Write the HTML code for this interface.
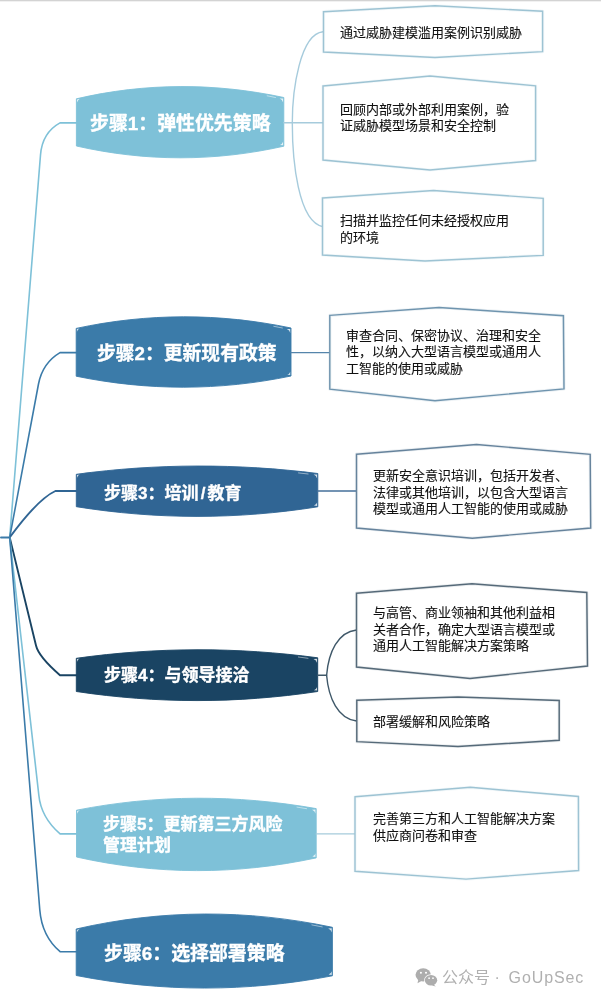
<!DOCTYPE html>
<html lang="zh-CN">
<head>
<meta charset="utf-8">
<title>LLM 安全步骤</title>
<style>
html,body{margin:0;padding:0;background:#fff;}
body{width:601px;height:1001px;position:relative;overflow:hidden;font-family:"Liberation Sans","Noto Sans CJK SC",sans-serif;}
svg{position:absolute;left:0;top:0;}
.t{position:absolute;color:#fff;font-weight:bold;white-space:nowrap;-webkit-text-stroke:0.35px #fff;will-change:transform;}
.b{position:absolute;color:#111;font-size:13px;white-space:nowrap;will-change:transform;-webkit-text-stroke:0.12px #111;}
.wm{position:absolute;color:#b0b0b0;font-size:16px;line-height:24px;white-space:nowrap;will-change:transform;}
.wm .g{letter-spacing:0.9px;margin-left:4.3px;}
</style>
</head>
<body>
<svg width="601" height="1001" viewBox="0 0 601 1001">
<rect x="0" y="0" width="601" height="1" fill="#d3d3d3"/><rect x="0" y="1" width="601" height="1" fill="#f1f1f1"/>
<path d="M1,537.4 L9.7,537.4" fill="none" stroke="#3b7ba9" stroke-width="2" stroke-linecap="round" stroke-linejoin="round"/>
<path d="M9.7,537.4 L40.5,155 Q42.2,132.7 60,122.9 L77,122.9" fill="none" stroke="#7ec1d8" stroke-width="1.6" stroke-linecap="round" stroke-linejoin="round"/>
<path d="M9.7,537.4 L38.5,384 Q42.5,363 60,352.6 L77,352.6" fill="none" stroke="#3b7ba9" stroke-width="1.6" stroke-linecap="round" stroke-linejoin="round"/>
<path d="M9.7,537.4 Q38,499 55.4,491 L77,491" fill="none" stroke="#306594" stroke-width="1.9" stroke-linecap="round" stroke-linejoin="round"/>
<path d="M9.7,537.4 L36,645.5 Q38.6,656.6 60,675.2 L77,675.2" fill="none" stroke="#1a4463" stroke-width="1.9" stroke-linecap="round" stroke-linejoin="round"/>
<path d="M9.7,537.4 L38.8,795 Q41,817.4 60.1,833.9 L77,833.9" fill="none" stroke="#7ec1d8" stroke-width="1.6" stroke-linecap="round" stroke-linejoin="round"/>
<path d="M9.7,537.4 L39.8,910 Q41.9,936.2 60.1,951.7 L77,951.7" fill="none" stroke="#3b7ba9" stroke-width="1.6" stroke-linecap="round" stroke-linejoin="round"/>
<path d="M76.4,98.8 C145.5,82.7 214.7,82.7 283.8,97.5 L283.8,146.2 C214.7,161.7 145.5,161.7 76.4,146 Z" fill="#7ec1d8"/>
<path d="M279.6,98.6 L283.2,98.4 L283.2,102.7 Q282.40000000000003,99.7 279.6,98.6 Z M280.0,144.89999999999998 L283.2,145.29999999999998 L283.2,141.6 Q282.40000000000003,144.0 280.0,144.89999999999998 Z M77.0,102.39999999999999 L77.0,99.5 L79.80000000000001,98.7 Q77.60000000000001,100.2 77.0,102.39999999999999 Z" fill="#fff" opacity="0.8"/>
<path d="M267.2,95.8 L275.5,97.5" stroke="#fff" stroke-width="0.9" opacity="0.55" fill="none" stroke-linecap="round"/>
<path d="M76.4,98.8 C145.5,82.7 214.7,82.7 283.8,97.5 L283.8,146.2 C214.7,161.7 145.5,161.7 76.4,146 Z" fill="none" stroke="#7ec1d8" stroke-width="0.9" stroke-linejoin="miter"/>
<path d="M76.2,328.4 C147.8,313.0 219.4,313.0 291,328 L291,376 C219.4,390.9 147.8,390.9 76.2,376.2 Z" fill="#3b7ba9"/>
<path d="M286.8,329.1 L290.4,328.9 L290.4,333.2 Q289.6,330.2 286.8,329.1 Z M287.2,374.7 L290.4,375.1 L290.4,371.4 Q289.6,373.8 287.2,374.7 Z M76.8,332.0 L76.8,329.09999999999997 L79.60000000000001,328.29999999999995 Q77.4,329.79999999999995 76.8,332.0 Z" fill="#fff" opacity="0.8"/>
<path d="M273.8,326.3 L282.4,328.0" stroke="#fff" stroke-width="0.9" opacity="0.55" fill="none" stroke-linecap="round"/>
<path d="M76.2,328.4 C147.8,313.0 219.4,313.0 291,328 L291,376 C219.4,390.9 147.8,390.9 76.2,376.2 Z" fill="none" stroke="#3b7ba9" stroke-width="0.9" stroke-linejoin="miter"/>
<path d="M76.3,474.3 C156.8,463.4 237.3,463.4 317.8,473.5 L317.8,506.8 C237.3,519.6 156.8,519.6 76.3,506.7 Z" fill="#306594"/>
<path d="M313.6,474.6 L317.2,474.4 L317.2,478.7 Q316.40000000000003,475.7 313.6,474.6 Z M314.0,505.5 L317.2,505.90000000000003 L317.2,502.2 Q316.40000000000003,504.6 314.0,505.5 Z M76.89999999999999,477.90000000000003 L76.89999999999999,475.0 L79.7,474.2 Q77.5,475.7 76.89999999999999,477.90000000000003 Z" fill="#fff" opacity="0.8"/>
<path d="M298.5,472.9 L308.1,474.0" stroke="#fff" stroke-width="0.9" opacity="0.55" fill="none" stroke-linecap="round"/>
<path d="M76.3,474.3 C156.8,463.4 237.3,463.4 317.8,473.5 L317.8,506.8 C237.3,519.6 156.8,519.6 76.3,506.7 Z" fill="none" stroke="#306594" stroke-width="0.9" stroke-linejoin="miter"/>
<path d="M76.3,658.3 C156.8,647.0 237.2,647.0 317.7,657.8 L317.7,691.5 C237.2,703.6 156.8,703.6 76.3,691.5 Z" fill="#1a4463"/>
<path d="M313.5,658.9 L317.09999999999997,658.6999999999999 L317.09999999999997,663.0 Q316.3,660.0 313.5,658.9 Z M313.9,690.2 L317.09999999999997,690.6 L317.09999999999997,686.9 Q316.3,689.3 313.9,690.2 Z M76.89999999999999,661.9 L76.89999999999999,659.0 L79.7,658.1999999999999 Q77.5,659.6999999999999 76.89999999999999,661.9 Z" fill="#fff" opacity="0.8"/>
<path d="M298.4,657.0 L308.0,658.3" stroke="#fff" stroke-width="0.9" opacity="0.55" fill="none" stroke-linecap="round"/>
<path d="M76.3,658.3 C156.8,647.0 237.2,647.0 317.7,657.8 L317.7,691.5 C237.2,703.6 156.8,703.6 76.3,691.5 Z" fill="none" stroke="#1a4463" stroke-width="0.9" stroke-linejoin="miter"/>
<path d="M76.5,810.2 C156.4,794.5 236.3,794.5 316.2,808.6 L316.2,857.9 C236.3,875.0 156.4,875.0 76.5,857 Z" fill="#7ec1d8"/>
<path d="M312.0,809.7 L315.59999999999997,809.5 L315.59999999999997,813.8000000000001 Q314.8,810.8000000000001 312.0,809.7 Z M312.4,856.6 L315.59999999999997,857.0 L315.59999999999997,853.3 Q314.8,855.6999999999999 312.4,856.6 Z M77.1,813.8000000000001 L77.1,810.9000000000001 L79.9,810.1 Q77.7,811.6 77.1,813.8000000000001 Z" fill="#fff" opacity="0.8"/>
<path d="M297.0,807.1 L306.6,808.7" stroke="#fff" stroke-width="0.9" opacity="0.55" fill="none" stroke-linecap="round"/>
<path d="M76.5,810.2 C156.4,794.5 236.3,794.5 316.2,808.6 L316.2,857.9 C236.3,875.0 156.4,875.0 76.5,857 Z" fill="none" stroke="#7ec1d8" stroke-width="0.9" stroke-linejoin="miter"/>
<path d="M76.2,929 C161.6,909.3 247.0,909.3 332.4,927.3 L332.4,975.8 C247.0,992.2 161.6,992.2 76.2,975.5 Z" fill="#3b7ba9"/>
<path d="M328.2,928.4 L331.79999999999995,928.1999999999999 L331.79999999999995,932.5 Q331.0,929.5 328.2,928.4 Z M328.59999999999997,974.5 L331.79999999999995,974.9 L331.79999999999995,971.1999999999999 Q331.0,973.5999999999999 328.59999999999997,974.5 Z M76.8,932.6 L76.8,929.7 L79.60000000000001,928.9 Q77.4,930.4 76.8,932.6 Z" fill="#fff" opacity="0.8"/>
<path d="M311.9,924.9 L322.2,926.9" stroke="#fff" stroke-width="0.9" opacity="0.55" fill="none" stroke-linecap="round"/>
<path d="M76.2,929 C161.6,909.3 247.0,909.3 332.4,927.3 L332.4,975.8 C247.0,992.2 161.6,992.2 76.2,975.5 Z" fill="none" stroke="#3b7ba9" stroke-width="0.9" stroke-linejoin="miter"/>
<path d="M283.8,122.8 L323,122.8" fill="none" stroke="#a6cbdc" stroke-width="1.4" stroke-linecap="round" stroke-linejoin="round"/>
<path d="M323,31.7 C300,34 292.3,90 292.3,122.8 C292.3,160 298,222 323,226.7" fill="none" stroke="#a6cbdc" stroke-width="1.4" stroke-linecap="round" stroke-linejoin="round"/>
<path d="M291,352.6 L330,352.6" fill="none" stroke="#5585ab" stroke-width="1.3" stroke-linecap="round" stroke-linejoin="round"/>
<path d="M317.8,491 L356,491" fill="none" stroke="#46709a" stroke-width="1.3" stroke-linecap="round" stroke-linejoin="round"/>
<path d="M317.7,675.3 L326.6,675.3" fill="none" stroke="#3f5869" stroke-width="1.4" stroke-linecap="round" stroke-linejoin="round"/>
<path d="M356.5,630 C338,632 328.5,652 326.6,675.3 C328.5,698 338,719 356.5,721" fill="none" stroke="#3f5869" stroke-width="1.4" stroke-linecap="round" stroke-linejoin="round"/>
<path d="M316.2,833.9 L355,833.9" fill="none" stroke="#a6cbdc" stroke-width="1.4" stroke-linecap="round" stroke-linejoin="round"/>
<path d="M323.5,11.7 L435,5.8 L542.6,11.3 L542.6,51.6 L435,57.5 L323.5,52 Z" fill="#fff" stroke="#9dc3d3" stroke-opacity="0.12" stroke-width="3.2" stroke-linejoin="round"/><path d="M323.5,11.7 L435,5.8 L542.6,11.3 L542.6,51.6 L435,57.5 L323.5,52 Z" fill="none" stroke="#9dc3d3" stroke-width="1.45" stroke-linejoin="miter"/>
<path d="M323,86 L430,76 L535.6,85.8 L535.6,160.5 L430,170 L323,160 Z" fill="#fff" stroke="#9dc3d3" stroke-opacity="0.12" stroke-width="3.2" stroke-linejoin="round"/><path d="M323,86 L430,76 L535.6,85.8 L535.6,160.5 L430,170 L323,160 Z" fill="none" stroke="#9dc3d3" stroke-width="1.45" stroke-linejoin="miter"/>
<path d="M322.5,198 L433.5,190.5 L543.2,198.4 L543.2,255.4 L425,261 L322.5,255 Z" fill="#fff" stroke="#9dc3d3" stroke-opacity="0.12" stroke-width="3.2" stroke-linejoin="round"/><path d="M322.5,198 L433.5,190.5 L543.2,198.4 L543.2,255.4 L425,261 L322.5,255 Z" fill="none" stroke="#9dc3d3" stroke-width="1.45" stroke-linejoin="miter"/>
<path d="M329.8,315.4 L439,307.5 L563.4,315.7 L564,388.9 L435,400.8 L329.8,389.2 Z" fill="#fff" stroke="#6f94ae" stroke-opacity="0.12" stroke-width="3.2" stroke-linejoin="round"/><path d="M329.8,315.4 L439,307.5 L563.4,315.7 L564,388.9 L435,400.8 L329.8,389.2 Z" fill="none" stroke="#6f94ae" stroke-width="1.45" stroke-linejoin="miter"/>
<path d="M356.5,454.2 L476.5,444.5 L590.2,454.3 L590.7,528 L472.3,538.2 L356.5,528 Z" fill="#fff" stroke="#66839c" stroke-opacity="0.12" stroke-width="3.2" stroke-linejoin="round"/><path d="M356.5,454.2 L476.5,444.5 L590.2,454.3 L590.7,528 L472.3,538.2 L356.5,528 Z" fill="none" stroke="#66839c" stroke-width="1.45" stroke-linejoin="miter"/>
<path d="M356.5,593.2 L472,583.8 L586.8,592.5 L587.5,666 L470,678.4 L356.5,667 Z" fill="#fff" stroke="#566a79" stroke-opacity="0.12" stroke-width="3.2" stroke-linejoin="round"/><path d="M356.5,593.2 L472,583.8 L586.8,592.5 L587.5,666 L470,678.4 L356.5,667 Z" fill="none" stroke="#566a79" stroke-width="1.45" stroke-linejoin="miter"/>
<path d="M356.8,700.3 L458,697 L559.2,700.5 L559.2,740.3 L458,746.5 L356.8,741.6 Z" fill="#fff" stroke="#566a79" stroke-opacity="0.12" stroke-width="3.2" stroke-linejoin="round"/><path d="M356.8,700.3 L458,697 L559.2,700.5 L559.2,740.3 L458,746.5 L356.8,741.6 Z" fill="none" stroke="#566a79" stroke-width="1.45" stroke-linejoin="miter"/>
<path d="M355,796.8 L470.3,787.3 L578.4,796.5 L578.6,870.5 L466,879.1 L355,871.2 Z" fill="#fff" stroke="#9dc3d3" stroke-opacity="0.12" stroke-width="3.2" stroke-linejoin="round"/><path d="M355,796.8 L470.3,787.3 L578.4,796.5 L578.6,870.5 L466,879.1 L355,871.2 Z" fill="none" stroke="#9dc3d3" stroke-width="1.45" stroke-linejoin="miter"/>
<g fill="#adadad">
<ellipse cx="423.2" cy="974.8" rx="7.7" ry="6.6"/>
<path d="M418.3,979.6 L417.5,983.2 L421.4,981 Z"/>
<ellipse cx="431" cy="980.2" rx="6.9" ry="6" fill="#fff"/>
<ellipse cx="431" cy="980.2" rx="6.2" ry="5.3"/>
<path d="M433.6,984.4 L435.8,986.5 L432,985.5 Z"/>
</g>
<g fill="#fff"><circle cx="420.9" cy="972.8" r="1.05"/><circle cx="426" cy="972.8" r="1.05"/>
<circle cx="429.1" cy="978.2" r="0.85"/><circle cx="433" cy="978.2" r="0.85"/></g>
</svg>
<div class="t" style="left:89.6px;top:112.4px;font-size:18.9px;line-height:23.625px">步骤1：弹性优先策略</div>
<div class="t" style="left:96.5px;top:342.2px;font-size:18.8px;line-height:23.5px">步骤2：更新现有政策</div>
<div class="t" style="left:104px;top:483.0px;font-size:17px;line-height:21.25px">步骤3：培训<span style="margin:0 2.2px">/</span>教育</div>
<div class="t" style="left:103.8px;top:665.3px;font-size:17px;line-height:21.25px">步骤4：与领导接洽</div>
<div class="t" style="left:103.4px;top:814px;font-size:17px;line-height:21px">步骤5：更新第三方风险<br>管理计划</div>
<div class="t" style="left:104px;top:942.2px;font-size:18.9px;line-height:23.625px">步骤6：选择部署策略</div>
<div class="b" style="left:340px;top:25.2px;line-height:16.3px">通过威胁建模滥用案例识别威胁</div>
<div class="b" style="left:340.1px;top:102.2px;line-height:15.5px">回顾内部或外部利用案例，验<br>证威胁模型场景和安全控制</div>
<div class="b" style="left:340.1px;top:212.6px;line-height:16.5px">扫描并监控任何未经授权应用<br>的环境</div>
<div class="b" style="left:346px;top:328.1px;line-height:16.3px">审查合同、保密协议、治理和安全<br>性，以纳入大型语言模型或通用人<br>工智能的使用或威胁</div>
<div class="b" style="left:373.2px;top:467.9px;line-height:16.6px">更新安全意识培训，包括开发者、<br>法律或其他培训，以包含大型语言<br>模型或通用人工智能的使用或威胁</div>
<div class="b" style="left:373.4px;top:604.9px;line-height:16.7px">与高管、商业领袖和其他利益相<br>关者合作，确定大型语言模型或<br>通用人工智能解决方案策略</div>
<div class="b" style="left:373.4px;top:714.1px;line-height:16.3px">部署缓解和风险策略</div>
<div class="b" style="left:373.2px;top:811.0px;line-height:16.5px">完善第三方和人工智能解决方案<br>供应商问卷和审查</div>
<div class="wm" style="left:441.5px;top:966.2px">公众号 · <span class="g">GoUpSec</span></div>
</body>
</html>
